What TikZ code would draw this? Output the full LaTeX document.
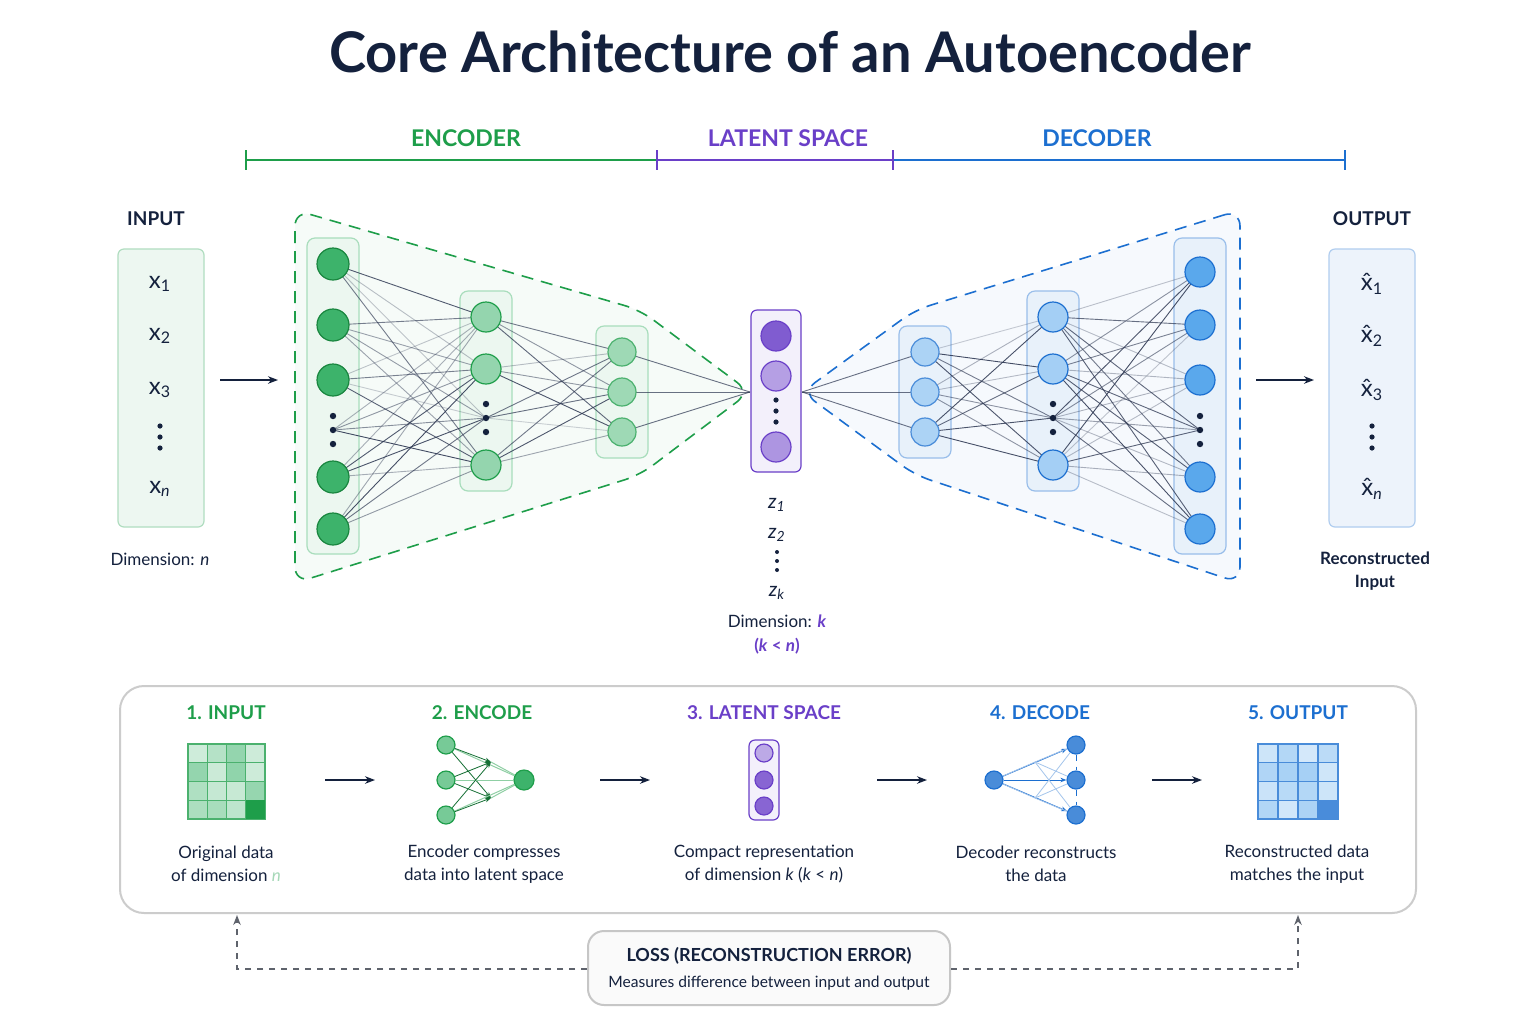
\documentclass[tikz,border=0pt]{standalone}
\usepackage{fontspec}
\setmainfont{Lato}
\usepackage{xcolor}
\usetikzlibrary{positioning,calc,arrows.meta}

\definecolor{navy}{HTML}{14213D}
\definecolor{encgreen}{HTML}{1E9E4A}
\definecolor{nodegreen}{HTML}{3DB36B}
\definecolor{latpurple}{HTML}{6A3FC8}
\definecolor{decblue}{HTML}{1C6FD0}
\definecolor{nodeblue}{HTML}{5AA8EC}
\definecolor{linkgray}{HTML}{2B3550}

\begin{document}
\begin{tikzpicture}[
    x=0.5pt, y=-0.5pt,
    title/.style={font=\fontsize{28}{32}\selectfont\bfseries, text=navy},
    head/.style={font=\fontsize{11.5}{13}\selectfont\bfseries},
    lbl/.style={font=\fontsize{9.5}{12}\selectfont\bfseries, text=navy},
    caption/.style={font=\fontsize{8.5}{11.5}\selectfont, text=navy, align=center},
    layer/.style={draw=#1!45, fill=#1!10, rounded corners=4pt, line width=0.6pt, inner sep=0pt},
    neuron/.style={circle, draw=#1, line width=0.6pt, inner sep=0pt, minimum size=15pt},
    dot/.style={circle, fill=navy, inner sep=0pt, minimum size=2.6pt},
    link/.style={draw=linkgray, line width=0.45pt},
    arrow/.style={-{Stealth[length=5pt]}, line width=1pt, draw=navy},
    vec/.style={rounded corners=3pt, line width=0.6pt, inner sep=0pt}
]
\useasboundingbox[fill=white] (0,0) rectangle (1536,1024);
\pgfmathsetseed{7}

% Title
\node[title] (title) at (790,52) {Core Architecture of an Autoencoder};

% Section bar
\draw[encgreen, line width=0.9pt] (246,160) -- (657,160);
\draw[latpurple, line width=0.9pt] (657,160) -- (893,160);
\draw[decblue, line width=0.9pt] (893,160) -- (1345,160);
\draw[encgreen, line width=0.9pt] (246,150) -- (246,170);
\draw[latpurple, line width=0.9pt] (657,150) -- (657,170) (893,150) -- (893,170);
\draw[decblue, line width=0.9pt] (1345,150) -- (1345,170);
\node[head, text=encgreen] (enclbl) at (466,138) {ENCODER};
\node[head, text=latpurple] (latlbl) at (788,138) {LATENT SPACE};
\node[head, text=decblue] (declbl) at (1097,138) {DECODER};

% Input vector
\node[lbl] (inlbl) at (156,219) {INPUT};
\node[vec, draw=encgreen!35, fill=encgreen!8, minimum width=43pt, minimum height=139pt] (inbox) at (161,388) {};
\foreach \t/\y in {1/284,2/336,3/390} \node[font=\fontsize{12}{14}\selectfont, text=navy] (in\t) at (160,\y) {x\textsubscript{\t}};
\foreach \y in {426,437,448} \node[dot] at (160,\y) {};
\node[font=\fontsize{12}{14}\selectfont, text=navy] (inn) at (160,489) {x\textsubscript{\textit{n}}};
\node[caption] (indim) at (160,559) {Dimension: \textit{n}};

% Output vector
\node[lbl] (outlbl) at (1372,219) {OUTPUT};
\node[vec, draw=decblue!35, fill=decblue!8, minimum width=43pt, minimum height=139pt] (outbox) at (1372,388) {};
\foreach \t/\y in {1/284,2/336,3/390} \node[font=\fontsize{12}{14}\selectfont, text=navy] (out\t) at (1372,\y) {\^{x}\textsubscript{\t}};
\foreach \y in {426,437,448} \node[dot] at (1372,\y) {};
\node[font=\fontsize{12}{14}\selectfont, text=navy] (outn) at (1372,489) {\^{x}\textsubscript{\textit{n}}};
\node[caption] (outdim) at (1375,571) {\bfseries Reconstructed\\\bfseries Input};

\coordinate (ina) at (220,380); \coordinate (inb) at (278,380);
\coordinate (outa) at (1256,380); \coordinate (outb) at (1314,380);
\draw[arrow] (ina) -- (inb);
\draw[arrow] (outa) -- (outb);

% Encoder / decoder hulls
\draw[encgreen, dashed, dash pattern=on 6pt off 4pt, line width=0.8pt, fill=encgreen!4, rounded corners=8pt]
  (295,210) -- (640,310) -- (750,392) -- (640,475) -- (295,583) -- cycle;
\draw[decblue, dashed, dash pattern=on 6pt off 4pt, line width=0.8pt, fill=decblue!4, rounded corners=8pt]
  (1240,210) -- (915,310) -- (802,392) -- (915,475) -- (1240,583) -- cycle;

% Layer boxes
\node[layer=nodegreen, minimum width=26pt, minimum height=158pt] (e1box) at (333,396) {};
\node[layer=nodegreen, minimum width=26pt, minimum height=100pt] (e2box) at (486,391) {};
\node[layer=nodegreen, minimum width=26pt, minimum height=66pt] (e3box) at (622,392) {};
\node[vec, draw=latpurple, fill=latpurple!8, minimum width=25pt, minimum height=81pt] (latbox) at (776,391) {};
\node[layer=decblue, minimum width=26pt, minimum height=66pt] (d1box) at (925,392) {};
\node[layer=decblue, minimum width=26pt, minimum height=100pt] (d2box) at (1053,391) {};
\node[layer=decblue, minimum width=26pt, minimum height=158pt] (d3box) at (1200,396) {};

% Neuron positions
\foreach \y [count=\i] in {264,325,380,430,477,529} \coordinate (e1-\i) at (333,\y);
\foreach \y [count=\i] in {317,369,418,465} \coordinate (e2-\i) at (486,\y);
\foreach \y [count=\i] in {352,392,432} \coordinate (e3-\i) at (622,\y);
\foreach \y [count=\i] in {352,392,432} \coordinate (d1-\i) at (925,\y);
\foreach \y [count=\i] in {317,369,418,465} \coordinate (d2-\i) at (1053,\y);
\foreach \y [count=\i] in {272,325,380,430,477,529} \coordinate (d3-\i) at (1200,\y);
\coordinate (latin) at (750,392);
\coordinate (latout) at (802,392);

% Connections
\foreach \i in {1,...,6} \foreach \j in {1,...,4} {
  \pgfmathsetmacro\op{0.2+0.7*rnd}
  \draw[link, draw opacity=\op] (e1-\i) -- (e2-\j);
  \pgfmathsetmacro\op{0.2+0.7*rnd}
  \draw[link, draw opacity=\op] (d2-\j) -- (d3-\i);
}
\foreach \i in {1,...,4} \foreach \j in {1,...,3} {
  \pgfmathsetmacro\op{0.2+0.7*rnd}
  \draw[link, draw opacity=\op] (e2-\i) -- (e3-\j);
  \pgfmathsetmacro\op{0.2+0.7*rnd}
  \draw[link, draw opacity=\op] (d1-\j) -- (d2-\i);
}
\foreach \j in {1,...,3} {
  \draw[link, draw opacity=0.7] (e3-\j) -- (latin);
  \draw[link, draw opacity=0.7] (latout) -- (d1-\j);
}

% Neurons
\foreach \i in {1,2,3,5,6} {
  \node[neuron=encgreen!85!black, fill=nodegreen, minimum size=16pt] (n-e1-\i) at (e1-\i) {};
  \node[neuron=decblue, fill=nodeblue, minimum size=15pt] (n-d3-\i) at (d3-\i) {};
}
\foreach \i in {1,2,4} {
  \node[neuron=encgreen, fill=nodegreen!55] (n-e2-\i) at (e2-\i) {};
  \node[neuron=decblue, fill=nodeblue!55] (n-d2-\i) at (d2-\i) {};
}
\foreach \i in {1,2,3} {
  \node[neuron=encgreen!80, fill=nodegreen!50, minimum size=14pt] (n-e3-\i) at (e3-\i) {};
  \node[neuron=decblue!80, fill=nodeblue!50, minimum size=14pt] (n-d1-\i) at (d1-\i) {};
}
\foreach \c in {e1-4, e2-3, d2-3, d3-4}
  \foreach \k in {-14,0,14} \node[dot, minimum size=3.2pt] at ($(\c)+(0,\k)$) {};
\node[neuron=latpurple, fill=latpurple!85] (l1) at (776,336) {};
\node[neuron=latpurple, fill=latpurple!50] (l2) at (776,376) {};
\foreach \k in {400,411,422} \node[dot] at (776,\k) {};
\node[neuron=latpurple, fill=latpurple!55] (l3) at (776,447) {};

% Latent labels
\node[font=\fontsize{10}{12}\selectfont\itshape, text=navy] (z1) at (777,505) {z\textsubscript{1}};
\node[font=\fontsize{10}{12}\selectfont\itshape, text=navy] (z2) at (777,535) {z\textsubscript{2}};
\foreach \k in {552,561,570} \node[dot, minimum size=2pt] at (777,\k) {};
\node[font=\fontsize{10}{12}\selectfont\itshape, text=navy] (zk) at (777,593) {z\textsubscript{\textit{k}}};
\node[caption] (latdim) at (777,621) {Dimension: \textcolor{latpurple}{\bfseries\itshape k}};
\node[caption, text=latpurple, font=\fontsize{8.5}{11}\selectfont\bfseries] (latrel) at (777,646) {(\textit{k} < \textit{n})};

% Pipeline panel
\draw[draw=gray!40, line width=1pt, rounded corners=12pt, fill=white] (120,686) rectangle (1416,913);
\node[head, font=\fontsize{9.5}{12}\selectfont\bfseries, text=encgreen] (s1) at (226,713) {1. INPUT};
\node[head, font=\fontsize{9.5}{12}\selectfont\bfseries, text=encgreen] (s2) at (482,713) {2. ENCODE};
\node[head, font=\fontsize{9.5}{12}\selectfont\bfseries, text=latpurple] (s3) at (764,713) {3. LATENT SPACE};
\node[head, font=\fontsize{9.5}{12}\selectfont\bfseries, text=decblue] (s4) at (1040,713) {4. DECODE};
\node[head, font=\fontsize{9.5}{12}\selectfont\bfseries, text=decblue] (s5) at (1298,713) {5. OUTPUT};
\node[caption] (c1) at (226,864) {Original data\\of dimension \textcolor{encgreen!40}{\textit{n}}};
\node[caption] (c2) at (484,864) {Encoder compresses\\data into latent space};
\node[caption] (c3) at (764,864) {Compact representation\\of dimension \textit{k} (\textit{k} < \textit{n})};
\node[caption] (c4) at (1036,864) {Decoder reconstructs\\the data};
\node[caption] (c5) at (1297,864) {Reconstructed data\\matches the input};

% Grid icons
\foreach \r in {0,...,3} \foreach \c in {0,...,3} {
  \pgfmathsetmacro\sh{int(25+40*rnd)}
  \draw[draw=encgreen!80, fill=nodegreen!\sh, line width=0.6pt] (188+19.25*\c,744+18.75*\r) rectangle ++(19.25,18.75);
  \pgfmathsetmacro\sh{int(25+30*rnd)}
  \draw[draw=decblue!80, fill=nodeblue!\sh, line width=0.6pt] (1258+20*\c,744+18.75*\r) rectangle ++(20,18.75);
}
\fill[encgreen] (246,800) rectangle (265,819); \draw[encgreen!80] (188,744) rectangle (265,819);
\fill[decblue!80] (1318,800) rectangle (1338,819);

% Encode icon
\foreach \y [count=\i] in {745,780,815} \node[neuron=encgreen, fill=nodegreen!70, minimum size=9pt] (ei\i) at (446,\y) {};
\node[neuron=encgreen, fill=nodegreen, minimum size=10pt] (eo) at (524,780) {};
\coordinate (em1) at (491,762); \coordinate (em2) at (491,798);
\foreach \i in {1,2,3} {
  \draw[encgreen!50, line width=0.5pt] (ei\i) -- (eo);
  \draw[encgreen!70!black, line width=0.4pt, -{Stealth[length=3pt]}] (ei\i) -- (em1);
  \draw[encgreen!70!black, line width=0.4pt, -{Stealth[length=3pt]}] (ei\i) -- (em2);
}
\draw[encgreen!50, line width=0.5pt] (em1) -- (eo) (em2) -- (eo);

% Latent icon
\node[vec, draw=latpurple, fill=latpurple!8, minimum width=15pt, minimum height=40pt] (li) at (764,780) {};
\node[neuron=latpurple, fill=latpurple!45, minimum size=9pt] (li1) at (764,753) {};
\node[neuron=latpurple, fill=latpurple!80, minimum size=9pt] (li2) at (764,780) {};
\node[neuron=latpurple, fill=latpurple!80, minimum size=9pt] (li3) at (764,806) {};

% Decode icon
\node[neuron=decblue, fill=decblue!80, minimum size=9pt] (di) at (994,780) {};
\foreach \y [count=\i] in {745,780,815} {
  \node[neuron=decblue, fill=decblue!80, minimum size=9pt] (do\i) at (1076,\y) {};
  \draw[decblue, line width=0.5pt, -{Stealth[length=3pt]}] (di) -- (do\i);
}
\coordinate (dm1) at (1035,762); \coordinate (dm2) at (1035,798);
\foreach \i in {1,2,3} \draw[decblue!40, line width=0.4pt] (dm1) -- (do\i) (dm2) -- (do\i);
\draw[decblue!40, line width=0.4pt] (di) -- (dm1) (di) -- (dm2);
\draw[decblue, dashed, line width=0.5pt] (do1) -- (do2) -- (do3);

% Pipeline arrows
\coordinate (a1) at (325,780); \coordinate (b1) at (375,780);
\coordinate (a2) at (600,780); \coordinate (b2) at (650,780);
\coordinate (a3) at (877,780); \coordinate (b3) at (927,780);
\coordinate (a4) at (1152,780); \coordinate (b4) at (1202,780);
\foreach \k in {1,...,4} \draw[arrow, line width=0.8pt] (a\k) -- (b\k);

% Loss
\node[draw=gray!45, fill=gray!4, line width=1pt, rounded corners=8pt, minimum width=181pt, minimum height=37pt] (loss) at (769,968) {};
\node[font=\fontsize{9}{11}\selectfont\bfseries, text=navy] (losst) at (769,956) {LOSS (RECONSTRUCTION ERROR)};
\node[font=\fontsize{7.8}{10}\selectfont, text=navy] (losss) at (769,983) {Measures difference between input and output};
\coordinate (lin) at (237,915); \coordinate (lout) at (1298,915);
\draw[gray!70!navy, dashed, line width=0.7pt, -{Stealth[length=5pt]}] (loss.west |- 0,969) -| (lin);
\draw[gray!70!navy, dashed, line width=0.7pt, -{Stealth[length=5pt]}] (loss.east |- 0,969) -| (lout);

\end{tikzpicture}
\end{document}
